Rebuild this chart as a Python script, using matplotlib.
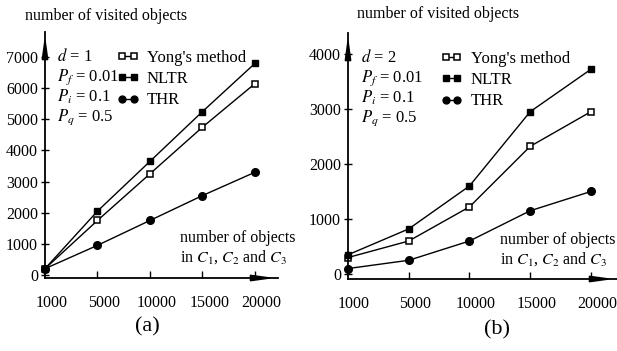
import matplotlib
matplotlib.use('Agg')
import matplotlib.pyplot as plt
import numpy as np

plt.rcParams['font.family'] = 'Liberation Serif'
plt.rcParams['mathtext.fontset'] = 'stix'

sizes = ['1000', '5000', '10000', '15000', '20000']

# panel (a), d = 1
yong_a = [200, 1750, 3250, 4750, 6150]
nltr_a = [200, 2050, 3650, 5250, 6800]
thr_a = [200, 950, 1750, 2550, 3300]

# panel (b), d = 2
yong_b = [300, 600, 1220, 2320, 2950]
nltr_b = [350, 820, 1600, 2950, 3720]
thr_b = [100, 250, 600, 1150, 1500]

W, H = 617, 351
fig = plt.figure(figsize=(W / 100, H / 100), dpi=100)


def px_axes(x0, x1, y_top, y_bot):
    return fig.add_axes([x0 / W, 1 - y_bot / H, (x1 - x0) / W, (y_bot - y_top) / H])


def draw(ax, yong, nltr, thr, ylim, yticks, xmax, d, lab_shift, leg_x):
    pos = np.arange(len(sizes))
    ax.plot(pos, yong, '-s', color='k', mfc='white', mec='k', ms=5, lw=1, mew=1.1,
            label="Yong's method", clip_on=False)
    ax.plot(pos, nltr, '-s', color='k', mfc='k', ms=5, lw=1, label='NLTR', clip_on=False)
    ax.plot(pos, thr, '-o', color='k', mfc='k', ms=5.5, lw=1, label='THR', clip_on=False)
    ax.set_xlim(0, xmax)
    ax.set_ylim(*ylim)
    for s in ['top', 'right']:
        ax.spines[s].set_visible(False)
    ax.spines['left'].set_linewidth(1.3)
    ax.spines['bottom'].set_linewidth(1.3)
    ax.set_xticks(pos[1:])
    ax.set_xticklabels([])
    for p, lab in zip(pos, sizes):
        ax.text(p + lab_shift, -0.07, lab, transform=ax.get_xaxis_transform(),
                ha='center', va='top', fontsize=11.5)
    ax.set_yticks(yticks)
    ax.set_yticklabels([str(v) for v in yticks])
    ax.tick_params(axis='x', direction='in', length=5, width=1)
    ax.tick_params(axis='y', direction='inout', length=6, width=1, labelsize=11.5, pad=2)
    ax.annotate('', xy=(1.0, 0), xytext=(0.9, 0), xycoords='axes fraction',
                arrowprops=dict(arrowstyle='-|>,head_length=1.3,head_width=0.18', color='k', lw=1.3))
    ax.annotate('', xy=(0, 1.0), xytext=(0, 0.9), xycoords='axes fraction',
                arrowprops=dict(arrowstyle='-|>,head_length=1.3,head_width=0.18', color='k', lw=1.3))
    ax.legend(loc='upper left', bbox_to_anchor=(leg_x, 0.955), frameon=False, numpoints=2,
              handlelength=1.3, handletextpad=0.5, labelspacing=0.32, fontsize=12,
              borderaxespad=0, markerscale=0.9)
    params = [r'$d$ = %d' % d, r'$P_f$ = 0.01', r'$P_i$ = 0.1', r'$P_q$ = 0.5']
    for i, t in enumerate(params):
        ax.text(0.05, 0.9 - i * 0.082, t, transform=ax.transAxes, fontsize=12,
                ha='left', va='center')


ax1 = px_axes(45, 278, 32, 278)
draw(ax1, yong_a, nltr_a, thr_a, (-100, 7810), [0, 1000, 2000, 3000, 4000, 5000, 6000, 7000],
     4.44, 1, 0.13, 0.28)
ax2 = px_axes(348, 617, 33, 279)
draw(ax2, yong_b, nltr_b, thr_b, (-90, 4380), [0, 1000, 2000, 3000, 4000], 4.43, 2, 0.1, 0.32)

fig.text(25 / W, 1 - 16 / H, 'number of visited objects', fontsize=11.5, va='center')
fig.text(357 / W, 1 - 14 / H, 'number of visited objects', fontsize=11.5, va='center')
fig.text(180 / W, 1 - 248 / H, 'number of objects\nin $C_1$, $C_2$ and $C_3$',
         fontsize=11.5, va='center', linespacing=1.1)
fig.text(500 / W, 1 - 250 / H, 'number of objects\nin $C_1$, $C_2$ and $C_3$',
         fontsize=11.5, va='center', linespacing=1.1)
fig.text(147 / W, 1 - 327 / H, '(a)', fontsize=16, ha='center', va='center')
fig.text(497 / W, 1 - 330 / H, '(b)', fontsize=16, ha='center', va='center')

fig.savefig('out.png', dpi=100)
